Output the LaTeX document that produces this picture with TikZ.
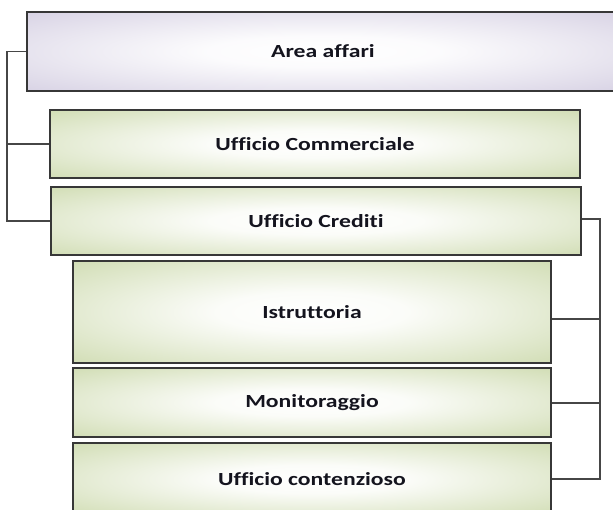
\documentclass[tikz,border=0pt]{standalone}
\usepackage{fontspec}
\setmainfont{Carlito}[Ligatures=NoCommon]
\usepackage{graphicx}
\definecolor{greenedge}{RGB}{186,204,143}
\definecolor{lavedge}{RGB}{196,188,215}
\definecolor{boxline}{RGB}{55,55,55}
\definecolor{connline}{RGB}{70,70,70}
\definecolor{txt}{RGB}{20,20,30}
\pgfdeclareradialshading{greenshade}{\pgfpoint{0bp}{0bp}}{color(0bp)=(white); color(10bp)=(white!94!greenedge); color(50bp)=(greenedge); color(75bp)=(greenedge)}
\pgfdeclareradialshading{lavshade}{\pgfpoint{0bp}{0bp}}{color(0bp)=(white); color(10bp)=(white!94!lavedge); color(50bp)=(lavedge); color(75bp)=(lavedge)}
\tikzset{
  greenbox/.style={draw=boxline, line width=1.1pt, shading=greenshade, rectangle, inner sep=0pt,
     font=\fontsize{18.5}{20}\selectfont\bfseries, text=txt},
  lavbox/.style={draw=boxline, line width=1.1pt, shading=lavshade, rectangle, inner sep=0pt,
     font=\fontsize{18.5}{20}\selectfont\bfseries, text=txt},
  conn/.style={draw=connline, line width=1.2pt}
}
\newcommand{\wtext}[1]{\scalebox{1.28}[1]{#1}}
\begin{document}
\begin{tikzpicture}[x=1pt,y=-1pt]
\useasboundingbox (0,0) rectangle (613,509);
\fill[white] (0,0) rectangle (613,509);
\clip (0,0) rectangle (613,509);
\node[lavbox, minimum width=592pt, minimum height=79pt] (area) at (323,51.5) {\wtext{Area affari}};
\node[greenbox, minimum width=530pt, minimum height=68pt] (comm) at (315,144) {\wtext{Ufficio Commerciale}};
\node[greenbox, minimum width=530pt, minimum height=68pt] (cred) at (316,221) {\wtext{Ufficio Crediti}};
\node[greenbox, minimum width=478pt, minimum height=102pt] (istr) at (312,312) {\wtext{Istruttoria}};
\node[greenbox, minimum width=478pt, minimum height=69pt] (moni) at (312,402.5) {\wtext{Monitoraggio}};
\node[greenbox, minimum width=478pt, minimum height=72pt] (cont) at (312,479) {\wtext{Ufficio contenzioso}};
\coordinate (L) at (7,0);
\coordinate (R) at (600,0);
\draw[conn] (area.west) -- (area.west -| L) -- (cred.west -| L) -- (cred.west);
\draw[conn] (comm.west) -- (comm.west -| L);
\draw[conn] ([yshift=2pt]cred.east) -- ([yshift=2pt]cred.east -| R) -- (cont.east -| R) -- (cont.east);
\draw[conn] ([yshift=-7pt]istr.east) -- ([yshift=-7pt]istr.east -| R);
\draw[conn] ([yshift=-0.5pt]moni.east) -- ([yshift=-0.5pt]moni.east -| R);
\end{tikzpicture}
\end{document}
